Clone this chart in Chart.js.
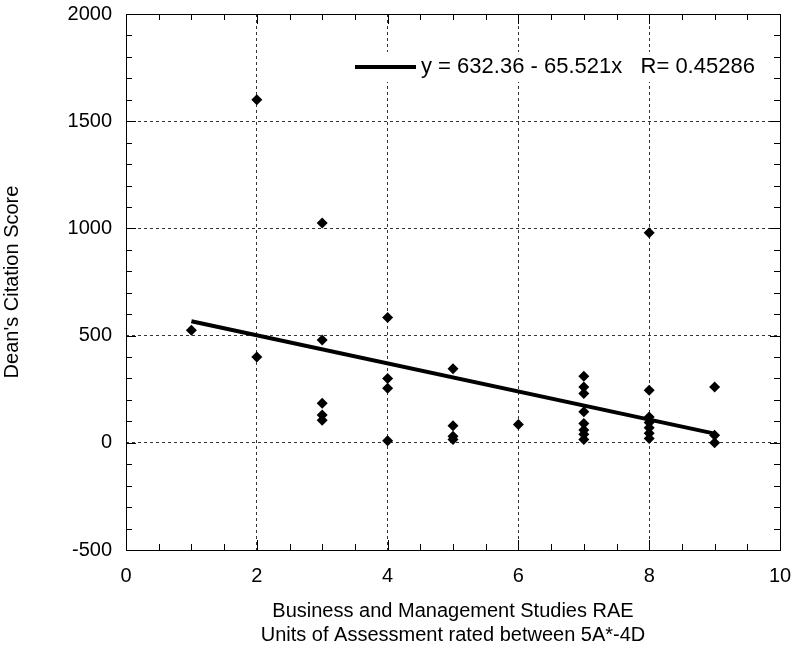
<!DOCTYPE html>
<html><head><meta charset="utf-8">
<script src="https://cdn.jsdelivr.net/npm/chart.js@4/dist/chart.umd.min.js"></script>
<style>html,body{margin:0;padding:0;background:#fff}#wrap{width:795px;height:649px}</style>
</head><body><div id="wrap"><canvas id="c" width="795" height="649"></canvas></div>
<script>
// ---- data ----
const xValues = [1, 2, 2, 3, 3, 3, 3, 3, 4, 4, 4, 4, 5, 5, 5, 5, 6, 7, 7, 7, 7, 7, 7, 7, 7, 8, 8, 8, 8, 8, 8, 8, 9, 9, 9];
const yValues = [525, 1600, 400, 1025, 480, 185, 130, 105, 585, 300, 255, 10, 345, 80, 30, 15, 85, 310, 260, 230, 145, 90, 60, 40, 15, 980, 245, 120, 95, 70, 45, 20, 260, 35, 0];
const fitIntercept = 632.36;
const fitSlope = -65.521;
const fitR = 0.45286;
const fitX = [1, 9];
const xTickLabels = ['0', '2', '4', '6', '8', '10'];
const yTickLabels = ['-500', '0', '500', '1000', '1500', '2000'];
const xTitle = ['Business and Management Studies RAE', 'Units of Assessment rated between 5A*-4D'];
const yTitle = "Dean's Citation Score";
const legendText = 'y = ' + fitIntercept + ' - ' + Math.abs(fitSlope) + 'x   R= ' + fitR;

const FONT = "'Liberation Sans', Arial, sans-serif";

const framePlugin = {
  id: 'frame',
  beforeDatasetsDraw(chart) {
    const ctx = chart.ctx;
    ctx.save();
    ctx.fillStyle = '#fff';
    ctx.fillRect(345, 52, 425, 30);
    ctx.strokeStyle = '#000';
    ctx.lineWidth = 4;
    ctx.beginPath();
    ctx.moveTo(355, 67); ctx.lineTo(416, 67);
    ctx.stroke();
    ctx.fillStyle = '#000';
    ctx.font = '22px ' + FONT;
    ctx.textBaseline = 'middle';
    ctx.textAlign = 'left';
    ctx.fillText(legendText, 421, 67);
    ctx.restore();
  },
  afterDraw(chart) {
    const ctx = chart.ctx, a = chart.chartArea;
    const xs = chart.scales.x, ys = chart.scales.y;
    ctx.save();
    ctx.strokeStyle = '#000';
    ctx.lineWidth = 1;
    ctx.beginPath();
    xs.ticks.forEach(t => {
      if (t.value <= xs.min || t.value >= xs.max) return;
      const p = Math.round(xs.getPixelForValue(t.value)) + 0.5;
      const len = (t.value % 2 === 0) ? 10 : 6;
      ctx.moveTo(p, a.bottom); ctx.lineTo(p, a.bottom - len);
      ctx.moveTo(p, a.top); ctx.lineTo(p, a.top + len);
    });
    ys.ticks.forEach(t => {
      if (t.value <= ys.min || t.value >= ys.max) return;
      const p = Math.round(ys.getPixelForValue(t.value)) + 0.5;
      const len = (t.value % 500 === 0) ? 10 : 6;
      ctx.moveTo(a.left, p); ctx.lineTo(a.left + len, p);
      ctx.moveTo(a.right, p); ctx.lineTo(a.right - len, p);
    });
    ctx.stroke();
    ctx.strokeRect(Math.round(a.left) + 0.5, Math.round(a.top) + 0.5, Math.round(a.right - a.left), Math.round(a.bottom - a.top));
    ctx.restore();
  }
};

const gridColor = (major, lo, hi) => c => {
  const v = c.tick ? c.tick.value : NaN;
  return (v % major === 0 && v > lo && v < hi) ? '#333' : 'rgba(0,0,0,0)';
};

new Chart(document.getElementById('c'), {
  type: 'scatter',
  data: {
    datasets: [
      {
        data: xValues.map((x, i) => ({ x: x, y: yValues[i] })),
        pointStyle: 'rectRot', pointRadius: 5.5, pointHoverRadius: 5.5,
        backgroundColor: '#000', borderColor: '#000', borderWidth: 0, order: 1
      },
      {
        data: fitX.map(x => ({ x: x, y: fitIntercept + fitSlope * x })),
        showLine: true, borderColor: '#000', borderWidth: 4, pointRadius: 0,
        borderCapStyle: 'butt', order: 2
      }
    ]
  },
  options: {
    responsive: false, animation: false, devicePixelRatio: 1,
    layout: { autoPadding: false, padding: { top: 14, right: 15, left: 0, bottom: 0 } },
    plugins: { legend: { display: false }, tooltip: { enabled: false } },
    scales: {
      x: {
        type: 'linear', min: 0, max: 10,
        afterFit(s) { s.height = 99; s.paddingLeft = 0; s.paddingRight = 0; },
        ticks: {
          stepSize: 0.5, autoSkip: false, maxRotation: 0, padding: 14, color: '#000',
          font: { family: FONT, size: 20 },
          callback: v => { const s = String(v); return xTickLabels.includes(s) ? s : ''; }
        },
        grid: { drawTicks: false, color: gridColor(2, 0, 10), lineWidth: 1 },
        border: { display: false, dash: [3, 3] },
        title: { display: true, text: xTitle, color: '#000', font: { family: FONT, size: 20, lineHeight: 1.2 }, padding: { top: 4, bottom: 2 } }
      },
      y: {
        type: 'linear', min: -500, max: 2000,
        afterFit(s) { s.width = 126; s.paddingTop = 0; s.paddingBottom = 0; },
        ticks: {
          stepSize: 100, autoSkip: false, padding: 14, color: '#000',
          font: { family: FONT, size: 20 },
          callback: v => { const s = String(v); return yTickLabels.includes(s) ? s : ''; }
        },
        grid: { drawTicks: false, color: gridColor(500, -500, 2000), lineWidth: 1 },
        border: { display: false, dash: [3, 3] },
        title: { display: true, text: yTitle, color: '#000', font: { family: FONT, size: 20 }, padding: { top: 0, bottom: 0 } }
      }
    }
  },
  plugins: [framePlugin]
});
</script>
</body></html>
